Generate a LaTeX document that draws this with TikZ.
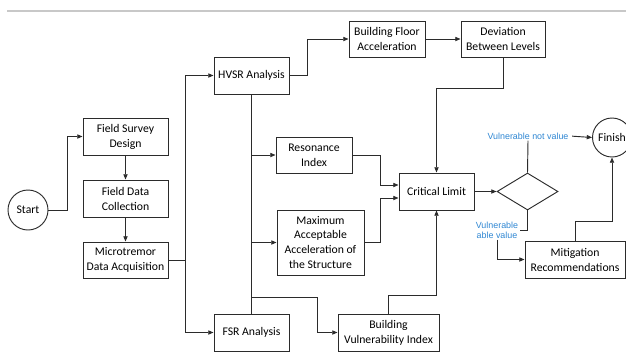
\documentclass[tikz,border=0pt]{standalone}
\usepackage{fontspec}
\setmainfont{Carlito}
\newfontfamily\notefont{Liberation Sans}
\usetikzlibrary{arrows.meta, positioning, calc, shapes.geometric}
\definecolor{linegray}{HTML}{2B2B2B}
\definecolor{noteblue}{HTML}{2F87D3}
\definecolor{rulegray}{HTML}{C8C8C8}

\begin{document}
\begin{tikzpicture}[
    x=0.3mm, y=-0.3mm,
    >={Triangle[length=4.5pt, width=3.6pt]},
    box/.style={draw=linegray, line width=0.8pt, fill=white, minimum width=#1, minimum height=11.1mm, inner sep=1pt, align=center, font=\fontsize{10}{12.8}\selectfont},
    box/.default=22.5mm,
    ring/.style={draw=linegray, line width=0.8pt, circle, minimum size=12mm, inner sep=0pt, font=\fontsize{10}{12.8}\selectfont},
    flow/.style={draw=linegray, line width=0.8pt},
    note/.style={font={\notefont\fontsize{7.6}{8.4}\selectfont}, text=noteblue, fill=white, inner sep=1pt, align=center},
]
    \useasboundingbox (0,0) rectangle (626,356);

    % Top rule
    \draw[rulegray, line width=1.4pt] (7,11) -- (626,11);

    % Survey chain
    \node[ring] (start) at (28,210) {Start};
    \node[box=25.5mm] (fsd) at (125.5,136.5) {Field Survey\\Design};
    \node[box=25.5mm] (fdc) at (125.5,198.5) {Field Data\\Collection};
    \node[box=25.5mm, minimum height=10.8mm] (mda) at (125.5,260) {Microtremor\\Data Acquisition};

    % Analyses
    \node[box] (hvsr) at (251.5,75.5) {HVSR Analysis};
    \node[box] (fsr) at (251.5,332.5) {FSR Analysis};
    \node[box=22.8mm, minimum height=10.8mm] (bfa) at (387,39) {Building Floor\\Acceleration};
    \node[box=25.2mm, minimum height=10.8mm] (dbl) at (503,39) {Deviation\\Between Levels};
    \node[box=22.8mm, minimum height=10.8mm] (ri) at (314,155) {Resonance\\Index};
    \node[box=26.1mm, minimum height=19.5mm] (maa) at (320.5,242.5) {Maximum\\Acceptable\\Acceleration of\\the Structure};
    \node[box=30.3mm] (bvi) at (388.5,332.5) {Building\\Vulnerability Index};

    % Decision
    \node[box] (cl) at (436.5,191.5) {Critical Limit};
    \node[diamond, draw=linegray, line width=0.8pt, minimum width=18.3mm, minimum height=11.1mm, inner sep=0pt] (dia) at (527.5,191.5) {};
    \node[box=30mm] (mit) at (575,259.5) {Mitigation\\Recommendations};
    \node[ring, minimum size=11.7mm] (fin) at (612,137.5) {Finish};
    \node[note] (nv) at (528,136) {Vulnerable not value};
    \node[note] (av) at (497,230) {Vulnerable\\able value};

    % Connections
    \draw[flow, ->] (start.east) -- ++(19,0) |- (fsd.west);
    \draw[flow, ->] (fsd) -- (fdc);
    \draw[flow, ->] (fdc) -- (mda);
    \draw[flow, ->] (mda.east) -- ++(17,0) |- (hvsr.west);
    \draw[flow, ->] (mda.east) -- ++(17,0) |- (fsr.west);
    \draw[flow] (hvsr) -- (fsr);
    \draw[flow, ->] (hvsr.south |- ri.west) -- (ri.west);
    \draw[flow, ->] (hvsr.south |- maa.west) -- (maa.west);
    \draw[flow, ->] (hvsr.south) ++(0,203) -- ++(65.5,0) |- (bvi.west);
    \draw[flow, ->] (hvsr.east) -- ++(18,0) |- (bfa.west);
    \draw[flow, ->] (bfa) -- (dbl);
    \draw[flow, ->] (dbl.south) -- ++(0,31) -| (cl.north);
    \draw[flow, ->] (ri.east) -- ++(28,0) |- ($(cl.west)+(0,-6.5)$);
    \draw[flow, ->] (maa.east) -- ++(16,0) |- ($(cl.west)+(0,6.5)$);
    \draw[flow, ->] (bvi.north) -- ++(0,-18) -| (cl.south);
    \draw[flow, ->] (cl) -- (dia);

    % Outcomes
    \draw[flow] (dia.north) -- (nv.south);
    \draw[flow, ->, shorten <=2pt] (nv.east) -- (fin.west);
    \draw[flow] (dia.south) |- (av.east);
    \draw[flow, ->] (av.south) |- (mit.west);
    \draw[flow, ->] (mit.north) -- ++(0,-19) -| (fin.south);

\end{tikzpicture}
\end{document}
